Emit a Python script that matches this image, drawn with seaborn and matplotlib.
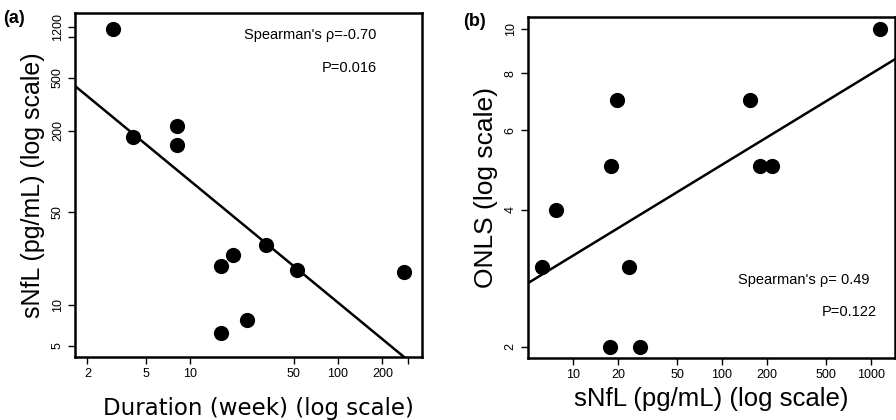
import matplotlib
matplotlib.use("Agg")
import matplotlib.pyplot as plt
import matplotlib.ticker as mticker
import seaborn as sns
import numpy as np
import pandas as pd

# values
duration_wk = [3.0, 4.05, 8.1, 8.1, 16.2, 19.4, 32.4, 52.6, 281, 16.2, 24.3]
snfl_a = [1155, 181, 217, 156, 19.8, 23.7, 28.4, 18.3, 17.8, 6.25, 7.7]

snfl_b = [1155, 19.7, 155, 18.0, 181, 217, 7.7, 6.2, 23.7, 17.8, 28.2]
onls = [10, 7, 7, 5, 5, 5, 4, 3, 3, 2, 2]

# fitted lines in log10 space: (intercept, slope)
fit_a = (2.834, -0.907)
fit_b = (0.3016, 0.200)

xticks_a = [2, 5, 10, 50, 100, 200, 300]
xticklabels_a = ["2", "5", "10", "50", "100", "200", ""]
yticks_a = [5, 10, 50, 200, 500, 1000, 1200]
yticklabels_a = ["5", "10", "50", "200", "500", "", "1200"]
xticks_b = [10, 20, 50, 100, 200, 500, 1000]
xticklabels_b = ["10", "20", "50", "100", "200", "500", "1000"]
yticks_b = [2, 4, 6, 8, 10]
yticklabels_b = ["2", "4", "6", "8", "10"]

df_a = pd.DataFrame({"duration": duration_wk, "snfl": snfl_a})
df_b = pd.DataFrame({"snfl": snfl_b, "onls": onls})

sns.set_style("ticks")
plt.rcParams["font.family"] = ["Liberation Sans", "DejaVu Sans"]
plt.rcParams["text.color"] = "black"
plt.rcParams["axes.labelcolor"] = "black"
plt.rcParams["xtick.color"] = "black"
plt.rcParams["ytick.color"] = "black"

fig = plt.figure(figsize=(8.96, 4.2), dpi=100)
ax1 = fig.add_axes([0.0837, 0.15, 0.3869, 0.819])
ax2 = fig.add_axes([0.589, 0.147, 0.41, 0.812])


def style_axis(ax, xt, xtl, yt, ytl):
    ax.set_xscale("log")
    ax.set_yscale("log")
    ax.xaxis.set_major_locator(mticker.FixedLocator(xt))
    ax.xaxis.set_major_formatter(mticker.FixedFormatter(xtl))
    ax.yaxis.set_major_locator(mticker.FixedLocator(yt))
    ax.yaxis.set_major_formatter(mticker.FixedFormatter(ytl))
    ax.xaxis.set_minor_locator(mticker.NullLocator())
    ax.yaxis.set_minor_locator(mticker.NullLocator())
    ax.tick_params(length=5, width=1, colors="black", labelsize=9, pad=3)
    ax.tick_params(axis="y", labelrotation=90)
    for lab in ax.get_yticklabels():
        lab.set_va("center")
    for sp in ax.spines.values():
        sp.set_visible(True)
        sp.set_linewidth(1.8)
        sp.set_color("black")


# panel (a)
sns.scatterplot(data=df_a, x="duration", y="snfl", ax=ax1, color="black",
                s=120, edgecolor="black", linewidth=0, zorder=3)
ax1.set_xlim(1.65, 369)
ax1.set_ylim(4.11, 1518)
xs = np.logspace(np.log10(1.65), np.log10(369), 50)
ax1.plot(xs, 10 ** (fit_a[0] + fit_a[1] * np.log10(xs)), color="black", lw=1.8)
style_axis(ax1, xticks_a, xticklabels_a, yticks_a, yticklabels_a)
ax1.set_xlabel("Duration (week) (log scale)", fontsize=16.5, family="DejaVu Sans", labelpad=5)
ax1.xaxis.set_label_coords(0.53, -0.115)
ax1.set_ylabel("sNfL (pg/mL) (log scale)", fontsize=18, labelpad=5)
ax1.text(0.87, 0.935, "Spearman's ρ=-0.70", transform=ax1.transAxes, ha="right",
         va="center", fontsize=10.5)
ax1.text(0.87, 0.84, "P=0.016", transform=ax1.transAxes, ha="right",
         va="center", fontsize=10.5)
fig.text(0.003, 0.955, "(a)", fontsize=13, fontweight="bold", va="center")

# panel (b)
sns.scatterplot(data=df_b, x="snfl", y="onls", ax=ax2, color="black",
                s=120, edgecolor="black", linewidth=0, zorder=3)
ax2.set_xlim(4.96, 1456)
ax2.set_ylim(1.886, 10.63)
xs = np.logspace(np.log10(4.96), np.log10(1456), 50)
ax2.plot(xs, 10 ** (fit_b[0] + fit_b[1] * np.log10(xs)), color="black", lw=1.8)
style_axis(ax2, xticks_b, xticklabels_b, yticks_b, yticklabels_b)
ax2.set_xlabel("sNfL (pg/mL) (log scale)", fontsize=18.5, labelpad=4)
ax2.set_ylabel("ONLS (log scale)", fontsize=19, labelpad=5)
ax2.text(0.93, 0.23, "Spearman's ρ= 0.49", transform=ax2.transAxes, ha="right",
         va="center", fontsize=10.5)
ax2.text(0.95, 0.137, "P=0.122", transform=ax2.transAxes, ha="right",
         va="center", fontsize=10.5)
fig.text(0.517, 0.95, "(b)", fontsize=13, fontweight="bold", va="center")

fig.savefig("out.png", dpi=100)
